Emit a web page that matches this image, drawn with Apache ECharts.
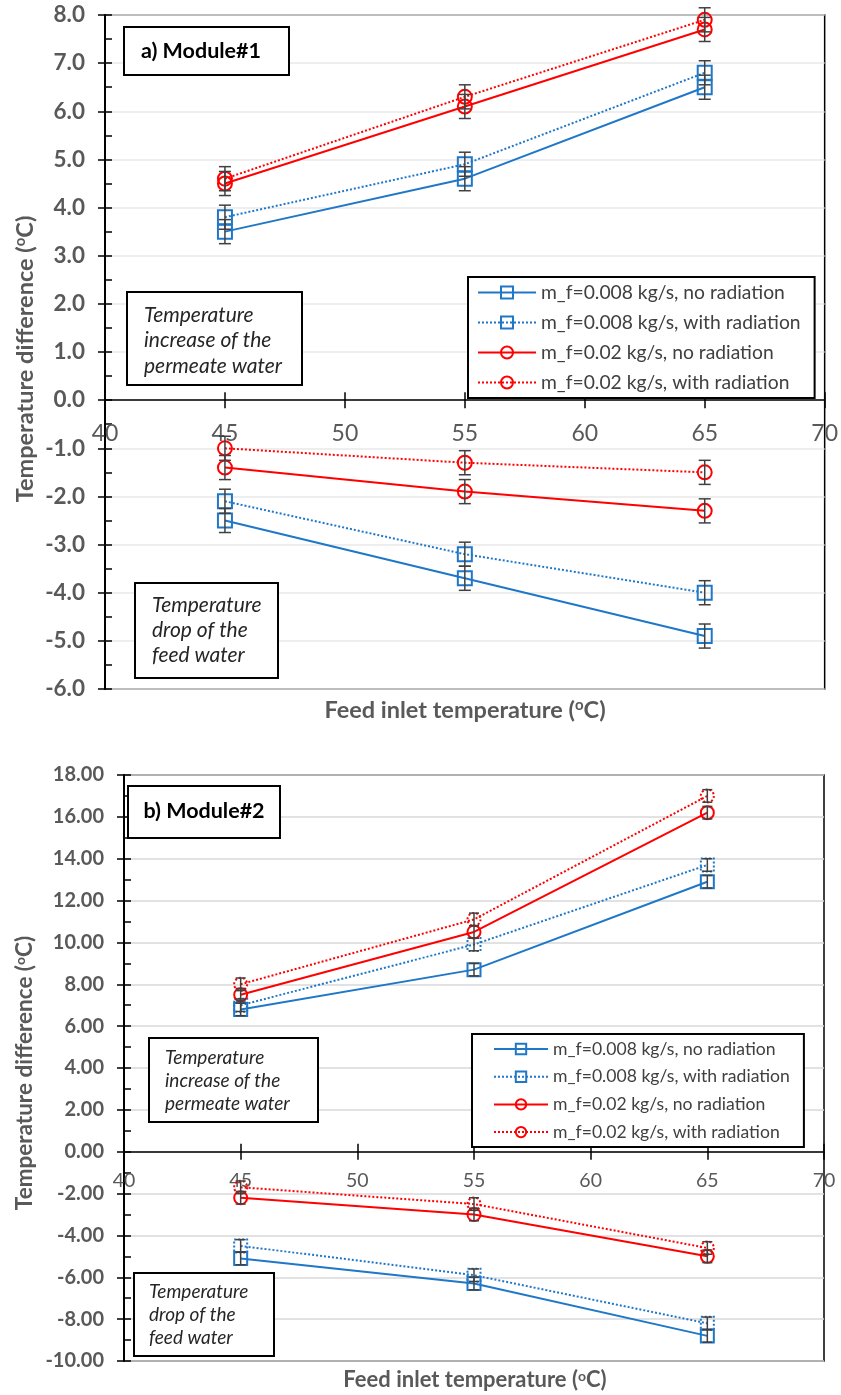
<!DOCTYPE html>
<html><head><meta charset="utf-8">
<script src="https://cdn.jsdelivr.net/npm/echarts@6/dist/echarts.min.js"></script>
<style>html,body{margin:0;padding:0;background:#fff}#c{width:841px;height:1395px}</style>
</head><body><div id="c"></div>
<script>
// ---------- data ----------
const xValues = [45, 55, 65];
const seriesNames = [
  'm_f=0.008 kg/s, no radiation',
  'm_f=0.008 kg/s, with radiation',
  'm_f=0.02 kg/s, no radiation',
  'm_f=0.02 kg/s, with radiation'
];
// Module #1 : temperature increase of the permeate water
const m1IncBlueNoRad = [3.5, 4.6, 6.5];
const m1IncBlueRad   = [3.8, 4.9, 6.8];
const m1IncRedNoRad  = [4.5, 6.1, 7.7];
const m1IncRedRad    = [4.6, 6.3, 7.9];
// Module #1 : temperature drop of the feed water
const m1DropBlueNoRad = [-2.5, -3.7, -4.9];
const m1DropBlueRad   = [-2.1, -3.2, -4.0];
const m1DropRedNoRad  = [-1.4, -1.9, -2.3];
const m1DropRedRad    = [-1.0, -1.3, -1.5];
const m1Err = 0.25;
// Module #2 : temperature increase of the permeate water
const m2IncBlueNoRad = [6.8, 8.7, 12.9];
const m2IncBlueRad   = [7.0, 9.9, 13.7];
const m2IncRedNoRad  = [7.5, 10.5, 16.2];
const m2IncRedRad    = [8.0, 11.1, 17.0];
// Module #2 : temperature drop of the feed water
const m2DropBlueNoRad = [-5.1, -6.3, -8.8];
const m2DropBlueRad   = [-4.5, -5.9, -8.2];
const m2DropRedNoRad  = [-2.2, -3.0, -5.0];
const m2DropRedRad    = [-1.7, -2.5, -4.6];
const m2Err = 0.3;
// axes
const xAxisRange = {min: 40, max: 70, interval: 5};
const m1YRange = {min: -6, max: 8, interval: 1};
const m2YRange = {min: -10, max: 18, interval: 2};
const titleA = 'a) Module#1';
const titleB = 'b) Module#2';
const noteInc = 'Temperature\nincrease of the\npermeate water';
const noteDrop = 'Temperature\ndrop of the\nfeed water';

// ---------- style ----------
const BLUE = '#1F77C8';
const RED = '#FF0000';
const FONT = 'Lato';
const GREY = '#595959';

const grids = [
  {left: 105, top: 15, width: 721, height: 674},
  {left: 124, top: 775, width: 700, height: 586}
];

const chart = echarts.init(document.getElementById('c'), null, {renderer: 'canvas'});

function lineSeries(gi, name, vals, color, symbol, dotted, size, dottedMarker) {
  return {
    type: 'line', name: name, xAxisIndex: gi * 2, yAxisIndex: gi * 2,
    data: xValues.map((x, i) => [x, vals[i]]),
    symbol: symbol, symbolSize: size, showSymbol: true,
    lineStyle: {color: color, width: 2, type: dotted ? 'dotted' : 'solid'},
    itemStyle: {color: 'rgba(255,255,255,0)', borderColor: color, borderWidth: 2,
      borderType: dottedMarker ? 'dotted' : 'solid'},
    emphasis: {disabled: true},
    z: 3, animation: false
  };
}
function errSeries(gi, vals, err, cap) {
  return {
    type: 'custom', name: 'err', xAxisIndex: gi * 2, yAxisIndex: gi * 2,
    data: xValues.map((x, i) => [x, vals[i], err]),
    encode: {x: 0, y: 1},
    renderItem: function (params, api) {
      const x = api.value(0), y = api.value(1), e = api.value(2);
      const hi = api.coord([x, y + e]), lo = api.coord([x, y - e]);
      const st = {stroke: '#404040', lineWidth: 1.5};
      return {type: 'group', children: [
        {type: 'line', shape: {x1: hi[0], y1: hi[1], x2: lo[0], y2: lo[1]}, style: st},
        {type: 'line', shape: {x1: hi[0] - cap, y1: hi[1], x2: hi[0] + cap, y2: hi[1]}, style: st},
        {type: 'line', shape: {x1: lo[0] - cap, y1: lo[1], x2: lo[0] + cap, y2: lo[1]}, style: st}
      ]};
    },
    silent: true, z: 5, animation: false
  };
}

const series = [];
function addModule(gi, groups, err, cap, size, dottedMarkers) {
  groups.forEach(g => {
    series.push(lineSeries(gi, g[0], g[1], g[2], g[3], g[4], size, dottedMarkers && g[4]));
    series.push(errSeries(gi, g[1], err, cap));
  });
}
addModule(0, [
  [seriesNames[0], m1IncBlueNoRad, BLUE, 'rect', false],
  [seriesNames[1], m1IncBlueRad, BLUE, 'rect', true],
  [seriesNames[2], m1IncRedNoRad, RED, 'circle', false],
  [seriesNames[3], m1IncRedRad, RED, 'circle', true],
  [seriesNames[0], m1DropBlueNoRad, BLUE, 'rect', false],
  [seriesNames[1], m1DropBlueRad, BLUE, 'rect', true],
  [seriesNames[2], m1DropRedNoRad, RED, 'circle', false],
  [seriesNames[3], m1DropRedRad, RED, 'circle', true]
], m1Err, 6, 14, false);
addModule(1, [
  [seriesNames[0], m2IncBlueNoRad, BLUE, 'rect', false],
  [seriesNames[1], m2IncBlueRad, BLUE, 'rect', true],
  [seriesNames[2], m2IncRedNoRad, RED, 'circle', false],
  [seriesNames[3], m2IncRedRad, RED, 'circle', true],
  [seriesNames[0], m2DropBlueNoRad, BLUE, 'rect', false],
  [seriesNames[1], m2DropBlueRad, BLUE, 'rect', true],
  [seriesNames[2], m2DropRedNoRad, RED, 'circle', false],
  [seriesNames[3], m2DropRedRad, RED, 'circle', true]
], m2Err, 5, 13, true);

// x axis sits on the y = 0 line: offset derived from the y range and grid height
function xAxes(gi, yr, fs, margin) {
  const h = grids[gi].height;
  const fromBottom = h * (0 - yr.min) / (yr.max - yr.min);
  const fromTop = h * (yr.max - 0) / (yr.max - yr.min);
  const base = {gridIndex: gi, type: 'value', min: xAxisRange.min, max: xAxisRange.max, interval: xAxisRange.interval,
    splitLine: {show: false}};
  return [
    Object.assign({}, base, {position: 'bottom', offset: -fromBottom,
      axisLine: {show: true, onZero: false, lineStyle: {color: '#000', width: 1.5}},
      axisTick: {show: true, inside: false, length: 8, lineStyle: {color: '#000', width: 1.5}},
      axisLabel: {show: true, margin: margin, fontSize: fs, color: GREY, fontFamily: FONT, showMinLabel: true, showMaxLabel: true}
    }),
    Object.assign({}, base, {position: 'top', offset: -fromTop,
      axisLine: {show: false, onZero: false},
      axisTick: {show: true, inside: false, length: 8, lineStyle: {color: '#000', width: 1.5}},
      axisLabel: {show: false}
    })
  ];
}
function yAxes(gi, range, digits, fs, margin, minorSplit, gridColor) {
  const base = {gridIndex: gi, type: 'value', min: range.min, max: range.max, interval: range.interval, position: 'left'};
  return [
    Object.assign({}, base, {
      axisLine: {show: true, onZero: false, lineStyle: {color: '#000', width: 2}},
      axisTick: {show: true, inside: false, length: 7, lineStyle: {color: '#000', width: 1.5}},
      axisLabel: {show: true, margin: margin, fontSize: fs, fontWeight: 'bold', color: GREY, fontFamily: FONT,
        formatter: v => v.toFixed(digits)},
      splitLine: {show: true, lineStyle: {color: gridColor, width: 1.5}}
    }),
    Object.assign({}, base, {
      axisLine: {show: false, onZero: false},
      axisTick: {show: true, inside: true, length: 7, lineStyle: {color: '#000', width: 1.5}},
      minorTick: {show: true, splitNumber: minorSplit, length: 7, lineStyle: {color: '#000', width: 1.5}},
      axisLabel: {show: false},
      splitLine: {show: false}
    })
  ];
}

function richTitle(txt, fs) {
  return {
    text: '{a|' + txt + ' (}{s|o}{a|C)}',
    rich: {
      a: {fontSize: fs, fontWeight: 'bold', fill: GREY, fontFamily: FONT},
      s: {fontSize: Math.round(fs * 0.62), fontWeight: 'bold', fill: GREY, fontFamily: FONT, verticalAlign: 'top', lineHeight: fs}
    },
    align: 'center', verticalAlign: 'middle'
  };
}
function box(x, y, w, h) {
  return {type: 'rect', shape: {x: x, y: y, width: w, height: h}, style: {fill: '#fff', stroke: '#000', lineWidth: 2}, z: 10};
}
function label(x, y, txt, opts) {
  return {type: 'text', x: x, y: y, z: 11, style: Object.assign({text: txt, fontFamily: FONT, fill: '#262626'}, opts)};
}

const graphic = [
  // module 1
  box(124, 27, 165, 48),
  label(201, 51, titleA, {fontSize: 21.5, fontWeight: 'bold', fill: '#000', align: 'center', verticalAlign: 'middle'}),
  box(127, 292, 175, 93),
  label(144, 340.5, noteInc, {fontSize: 21, fontStyle: 'italic', lineHeight: 25.5, align: 'left', verticalAlign: 'middle'}),
  box(135, 583, 143, 95),
  label(152, 630, noteDrop, {fontSize: 21, fontStyle: 'italic', lineHeight: 25, align: 'left', verticalAlign: 'middle'}),
  {type: 'text', x: 25, y: 359, rotation: Math.PI / 2, z: 11, style: richTitle('Temperature difference', 23.5)},
  {type: 'text', x: 465, y: 710, z: 11, style: richTitle('Feed inlet temperature', 23.5)},
  // module 2
  box(128, 786, 152, 52),
  label(204, 811, titleB, {fontSize: 21.5, fontWeight: 'bold', fill: '#000', align: 'center', verticalAlign: 'middle'}),
  box(149, 1038, 169, 84),
  label(165, 1081, noteInc, {fontSize: 19, fontStyle: 'italic', lineHeight: 23, align: 'left', verticalAlign: 'middle'}),
  box(134, 1273, 140, 83),
  label(149, 1315, noteDrop, {fontSize: 19, fontStyle: 'italic', lineHeight: 23, align: 'left', verticalAlign: 'middle'}),
  {type: 'text', x: 25, y: 1073, rotation: Math.PI / 2, z: 11, style: richTitle('Temperature difference', 22.5)},
  {type: 'text', x: 475, y: 1380, z: 11, style: richTitle('Feed inlet temperature', 22)}
];

const option = {
  backgroundColor: '#fff',
  animation: false,
  grid: grids.map(g => Object.assign({show: true, borderColor: '#000', borderWidth: 1.5, backgroundColor: 'rgba(0,0,0,0)'}, g)),
  xAxis: xAxes(0, m1YRange, 23, 22).concat(xAxes(1, m2YRange, 19.5, 19)),
  yAxis: yAxes(0, m1YRange, 1, 22.5, 20, 2, '#E8E8E8').concat(yAxes(1, m2YRange, 2, 20, 20, 2, '#D9D9D9')),
  legend: [
    {orient: 'vertical', left: 468, top: 277, data: seriesNames, itemWidth: 58, itemHeight: 15, itemGap: 11,
      backgroundColor: '#fff', borderColor: '#000', borderWidth: 2, padding: [6, 14, 6, 9], selectedMode: false,
      textStyle: {fontSize: 19.3, color: '#404040', fontFamily: FONT}, z: 12},
    {orient: 'vertical', left: 472, top: 1034, data: seriesNames, itemWidth: 54, itemHeight: 13, itemGap: 9.7,
      backgroundColor: '#fff', borderColor: '#000', borderWidth: 2, padding: [6, 14, 6, 21], selectedMode: false,
      textStyle: {fontSize: 17.6, color: '#404040', fontFamily: FONT}, z: 12}
  ],
  graphic: graphic,
  series: series
};
chart.setOption(option);
</script>
</body></html>
